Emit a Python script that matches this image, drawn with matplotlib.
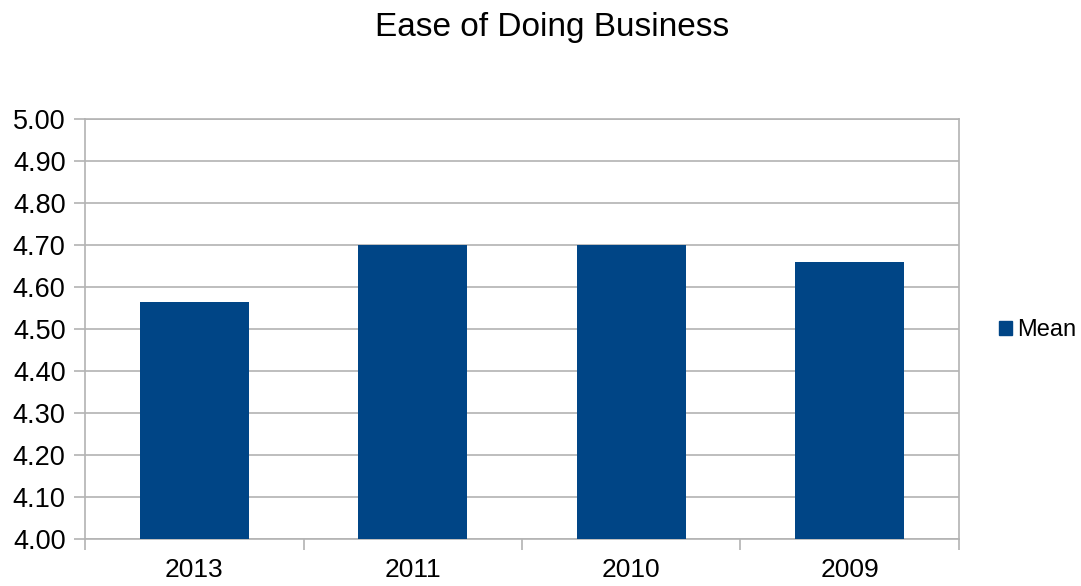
import numpy as np
import matplotlib.pyplot as plt
from matplotlib.patches import Patch

years = ["2013", "2011", "2010", "2009"]
mean_values = [4.564, 4.70, 4.70, 4.66]
y_ticks = [4.00, 4.10, 4.20, 4.30, 4.40, 4.50, 4.60, 4.70, 4.80, 4.90, 5.00]

plt.rcParams['font.family'] = ['Liberation Sans', 'DejaVu Sans']

bar_color = "#004586"
line_color = "#b3b3b3"

fig = plt.figure(figsize=(10.81, 5.86), dpi=100)
ax = fig.add_axes([85 / 1081, 1 - 539 / 586, (959 - 85) / 1081, (539 - 119) / 586])

x = np.arange(len(years))
ax.bar(x, mean_values, width=0.5, color=bar_color, zorder=3)

ax.set_xlim(-0.5, len(years) - 0.5)
ax.set_ylim(4.0, 5.0)
ax.set_yticks(y_ticks)
ax.set_yticklabels([f"{v:.2f}" for v in y_ticks], fontsize=19.5)
ax.yaxis.grid(True, color=line_color, linewidth=1.2, zorder=0)

# category labels centred, tick marks on the category boundaries
ax.set_xticks(x)
ax.set_xticklabels(years, fontsize=19)
ax.tick_params(axis='x', length=0, pad=14)
ax.set_xticks(np.arange(-0.5, len(years)), minor=True)
ax.tick_params(axis='x', which='minor', length=8, color=line_color, width=1.2)
ax.tick_params(axis='y', length=8, color=line_color, width=1.2, pad=6)

for side in ax.spines.values():
    side.set_color(line_color)
    side.set_linewidth(1.2)

fig.suptitle("Ease of Doing Business", fontsize=24, x=552 / 1081, y=1 - 12 / 586, va='top')

fig.legend(handles=[Patch(color=bar_color, label="Mean")],
           loc='center left', bbox_to_anchor=(999 / 1081, 1 - 330 / 586),
           frameon=False, fontsize=17, handlelength=0.55, handleheight=0.55,
           handletextpad=0.2, borderpad=0, borderaxespad=0)

fig.savefig("out.png", dpi=100)
